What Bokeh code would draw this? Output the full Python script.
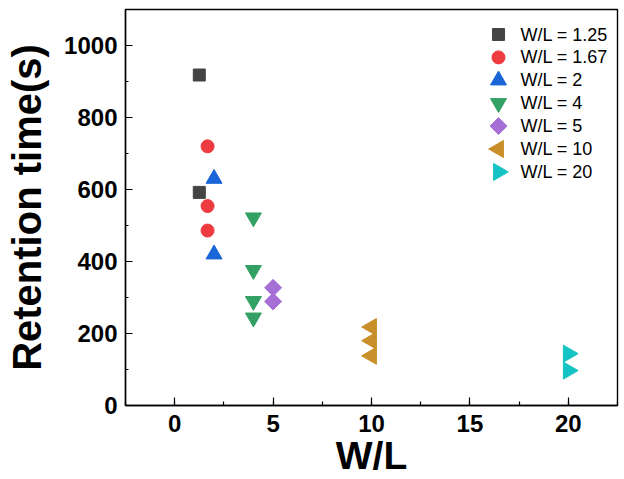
import math
from bokeh.plotting import figure
from bokeh.models import SingleIntervalTicker, Range1d
from bokeh.core.properties import value
from bokeh.embed import file_html
from bokeh.resources import INLINE

# ---- data ----
labels = ["W/L = 1.25", "W/L = 1.67", "W/L = 2", "W/L = 4", "W/L = 5", "W/L = 10", "W/L = 20"]
wl_125_x = [1.25, 1.25]
wl_125_y = [918, 592]
wl_167_x = [1.67, 1.67, 1.67]
wl_167_y = [720, 554, 486]
wl_2_x = [2, 2]
wl_2_y = [630, 420]
wl_4_x = [4, 4, 4, 4]
wl_4_y = [522, 376, 290, 244]
wl_5_x = [5, 5]
wl_5_y = [327, 289]
wl_10_x = [10, 10, 10]
wl_10_y = [218, 180, 138]
wl_20_x = [20, 20]
wl_20_y = [144, 97]

FONT = "Liberation Sans"

W, H = 624, 479
BL, BR, BT, BB = 125, 7, 9, 74
FW, FH = W - BL - BR, H - BT - BB

p = figure(width=W, height=H, output_backend="svg", toolbar_location=None,
           x_range=Range1d(-2.5, 22.5), y_range=Range1d(0, 1100),
           min_border_left=BL, min_border_right=BR, min_border_top=BT, min_border_bottom=BB)
p.grid.visible = False
p.background_fill_color = "white"
p.border_fill_color = "white"
p.outline_line_color = "black"
p.outline_line_width = 1.4

p.xaxis.ticker = SingleIntervalTicker(interval=5, num_minor_ticks=2)
p.yaxis.ticker = SingleIntervalTicker(interval=200, num_minor_ticks=2)
for ax in (p.xaxis, p.yaxis):
    ax.axis_line_color = "black"
    ax.axis_line_width = 1.4
    ax.major_tick_out = 0
    ax.minor_tick_out = 0
    ax.major_tick_line_color = "black"
    ax.minor_tick_line_color = "black"
    ax.major_tick_line_width = 1.2
    ax.minor_tick_line_width = 1.2
    ax.major_label_text_font = FONT
    ax.major_label_text_font_style = "bold"
    ax.major_label_text_font_size = "24px"
    ax.major_label_text_color = "black"
    ax.axis_label_text_font = FONT
    ax.axis_label_text_font_style = "bold"
    ax.axis_label_text_color = "black"
p.xaxis.major_tick_in = 8
p.xaxis.minor_tick_in = 4
p.yaxis.major_tick_in = 7
p.yaxis.minor_tick_in = 3
p.xaxis.major_label_standoff = 9
p.yaxis.major_label_standoff = 8

p.yaxis.axis_label = "Retention time(s)"
p.yaxis.axis_label_text_font_size = "40px"
p.yaxis.axis_label_standoff = 12

p.xaxis.axis_label = "W/L"
p.xaxis.axis_label_text_font_size = "39px"
p.xaxis.axis_label_standoff = -1

series = [
    (wl_125_x, wl_125_y, "square", 12, 0, "#444444"),
    (wl_167_x, wl_167_y, "circle", 13, 0, "#EE3B3F"),
    (wl_2_x, wl_2_y, "triangle", 16, 0, "#1A66D9"),
    (wl_4_x, wl_4_y, "inverted_triangle", 16, 0, "#33A064"),
    (wl_5_x, wl_5_y, "square", 12, math.pi / 4, "#A66FD6"),
    (wl_10_x, wl_10_y, "triangle", 17, math.pi / 2, "#C98F2A"),
    (wl_20_x, wl_20_y, "triangle", 17, -math.pi / 2, "#16C3C4"),
]

for xs, ys, mk, sz, ang, col in series:
    p.scatter(xs, ys, marker=mk, size=sz, angle=ang, fill_color=col, line_color=col)

# ---- legend, drawn in a pixel-like coordinate space of the frame ----
p.extra_x_ranges["leg"] = Range1d(0, FW)
p.extra_y_ranges["leg"] = Range1d(0, FH)
LEG_GX = FW - 119      # glyph centre from frame left
LEG_TX = FW - 97       # text start
LEG_TOP = FH - 25      # first row centre
LEG_DY = 22.9
for i, ((xs, ys, mk, sz, ang, col), lab) in enumerate(zip(series, labels)):
    yy = LEG_TOP - i * LEG_DY
    p.scatter([LEG_GX], [yy], marker=mk, size=sz, angle=ang, fill_color=col, line_color=col,
              x_range_name="leg", y_range_name="leg")
    p.text([LEG_TX], [yy], text=[lab], text_font=value(FONT), text_font_size="18px",
           text_color="black", text_baseline="middle", text_align="left",
           x_range_name="leg", y_range_name="leg")

open("out.html", "w").write(file_html(p, INLINE))
